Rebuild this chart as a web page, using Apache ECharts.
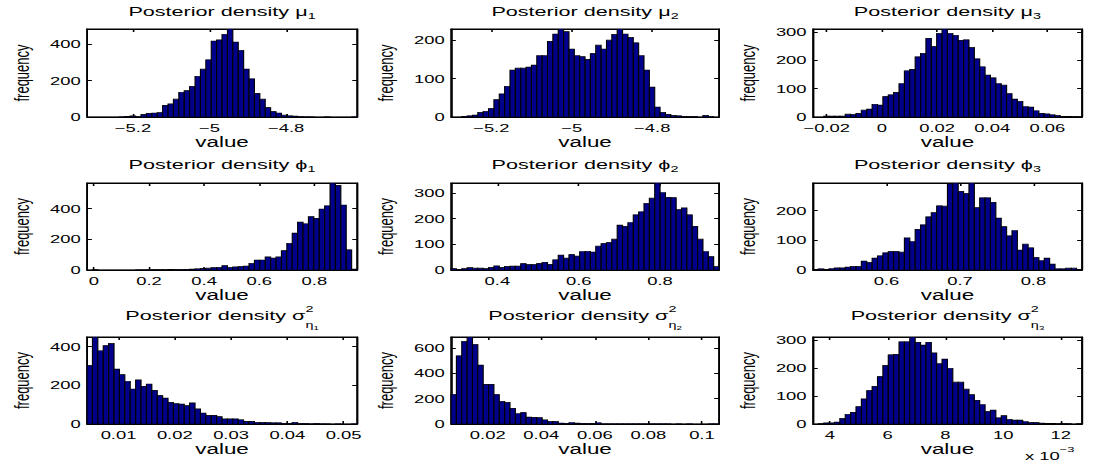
<!DOCTYPE html>
<html>
<head>
<meta charset="utf-8">
<script src="https://cdn.jsdelivr.net/npm/echarts@6/dist/echarts.min.js"></script>
<style>
html, body { margin: 0; padding: 0; background: #fff; overflow: hidden; }
/* the figure is wider than tall in the picture: draw narrow, then stretch */
#main { width: 686.25px; height: 466px; transform: scaleX(1.6); transform-origin: 0 0; }
</style>
</head>
<body>
<div id="main"></div>
<script>
// histogram counts, 50 bins each
var mu1 = [0,0,0,0,0,0,1,4,6,2, 14,20,22,24,64,72,98,136,145,168, 224,263,315,418,424,455,484,412,367,264, 210,130,98,52,30,22,10,7,5,2, 1,1,0,0,1,0,0,0,0,1];
var mu2 = [0,0,2,3,5,12,15,22,45,60, 80,122,127,127,130,135,160,160,197,216, 229,222,177,160,157,150,165,187,177,200, 215,229,216,207,193,160,122,78,26,12, 7,4,3,2,1,1,0,4,1,0];
var mu3 = [0,0,3,3,3,3,10,9,13,24, 28,45,42,72,78,87,118,163,168,212, 224,277,248,295,310,295,288,270,272,245, 205,177,148,138,118,112,82,63,55,37, 35,22,13,11,8,5,2,2,1,1];
var phi1 = [0,2,0,0,0,0,0,0,0,1, 1,1,2,2,2,4,3,3,5,6, 8,10,12,15,18,28,18,20,22,26, 44,65,65,85,78,85,126,174,240,312, 301,347,336,397,418,566,551,423,131,6];
var phi2 = [5,3,5,9,7,7,5,10,16,10, 14,15,15,25,21,21,26,30,22,40, 58,46,60,54,72,73,70,93,103,107, 120,175,170,185,215,227,260,280,339,302, 283,282,235,242,215,170,120,72,52,13];
var phi3 = [2,4,2,5,7,7,10,12,12,30, 25,40,48,58,62,62,60,108,96,137, 152,179,193,216,215,290,293,265,258,293, 210,243,243,228,175,146,115,133,67,87, 75,42,32,40,20,4,4,6,6,2];
var sig1 = [303,450,379,405,417,284,255,221,181,228, 195,207,174,147,134,112,105,103,95,109, 78,57,45,45,38,26,26,26,22,14, 14,9,8,7,6,6,4,4,9,2, 2,1,2,1,1,0,1,0,0,1];
var sig2 = [235,538,652,687,627,465,313,313,232,178, 170,124,83,90,55,53,50,32,20,20, 8,6,12,7,6,4,4,10,2,2, 1,2,1,1,2,1,1,1,2,1, 1,0,1,0,1,0,0,0,1,1];
var sig3 = [0,1,4,4,7,20,35,42,62,90, 120,135,170,210,248,250,295,295,312,293, 283,293,255,217,233,200,150,150,125,105, 85,70,45,50,22,30,17,14,14,9, 5,5,3,2,2,1,1,1,0,1];

// x range of each histogram (axis tight)
var mu1Range = [-5.32, -4.615];
var mu2Range = [-5.30, -4.634];
var mu3Range = [-0.025, 0.0725];
var phi1Range = [-0.025, 0.955];
var phi2Range = [0.286, 0.945];
var phi3Range = [0.50, 0.866];
var sig1Range = [0.0044, 0.0524];
var sig2Range = [0.0063, 0.1064];
var sig3Range = [0.00341, 0.01273];

// tick values
var mu1Ticks = [-5.2, -5, -4.8];
var mu2Ticks = [-5.2, -5, -4.8];
var mu3Ticks = [-0.02, 0, 0.02, 0.04, 0.06];
var phi1Ticks = [0, 0.2, 0.4, 0.6, 0.8];
var phi2Ticks = [0.4, 0.6, 0.8];
var phi3Ticks = [0.6, 0.7, 0.8];
var sig1Ticks = [0.01, 0.02, 0.03, 0.04, 0.05];
var sig2Ticks = [0.02, 0.04, 0.06, 0.08, 0.1];
var sig3Ticks = [0.004, 0.006, 0.008, 0.010, 0.012];
var yTicks = [
  [0, 200, 400], [0, 100, 200], [0, 100, 200, 300],
  [0, 200, 400], [0, 100, 200, 300], [0, 100, 200],
  [0, 200, 400], [0, 200, 400, 600], [0, 100, 200, 300]
];

var titleSymbols = ['μ', 'μ', 'μ', 'ϕ', 'ϕ', 'ϕ', 'σ', 'σ', 'σ'];
var titleIndex = ['1', '2', '3', '1', '2', '3', '1', '2', '3'];

var FONT = '"Liberation Sans", Arial, Helvetica, sans-serif';
var BAR = '#00008B';

// layout (unstretched coordinates)
var colLeft = [54.4, 281.9, 508.1], colWidth = [168.75, 167.5, 168.1];
var rowTop = [29, 183, 337], rowHeight = [88, 87, 87];
var titleY = [12, 165, 316];

var panels = [
  { c: mu1, r: mu1Range, xt: mu1Ticks },
  { c: mu2, r: mu2Range, xt: mu2Ticks },
  { c: mu3, r: mu3Range, xt: mu3Ticks },
  { c: phi1, r: phi1Range, xt: phi1Ticks },
  { c: phi2, r: phi2Range, xt: phi2Ticks },
  { c: phi3, r: phi3Range, xt: phi3Ticks },
  { c: sig1, r: sig1Range, xt: sig1Ticks },
  { c: sig2, r: sig2Range, xt: sig2Ticks },
  { c: sig3, r: sig3Range, xt: sig3Ticks, scale: 1000 }
];

var mctx = document.createElement('canvas').getContext('2d');
function tw(t, size) {
  mctx.font = size + 'px ' + FONT;
  return mctx.measureText(t).width;
}

// lay out a title made of pieces (sub/superscripts), centred on cx
function mathText(cx, cy, parts, leftAnchor) {
  var cursor = 0, prevStart = 0, items = [];
  parts.forEach(function (p) {
    var x = p.stack ? prevStart : cursor;
    items.push({ x: x, p: p });
    prevStart = x;
    cursor = Math.max(cursor, x + tw(p.t, p.size));
  });
  var off = leftAnchor ? cx : cx - cursor / 2;
  return items.map(function (it) {
    return {
      type: 'text', x: off + it.x, y: cy + (it.p.dy || 0), z: 10,
      style: {
        text: it.p.t, font: it.p.size + 'px ' + FONT, fill: '#000',
        align: 'left', verticalAlign: 'middle', textAlign: 'left', textVerticalAlign: 'middle'
      }
    };
  });
}

function renderBar(params, api) {
  var p0 = api.coord([api.value(0), 0]);
  var p1 = api.coord([api.value(1), api.value(2)]);
  return {
    type: 'rect',
    shape: { x: p0[0], y: p1[1], width: p1[0] - p0[0], height: p0[1] - p1[1] },
    style: { fill: BAR, stroke: '#000', lineWidth: 0.7 }
  };
}

function minus(v) {
  return String(v).replace('-', '\u2212');
}

var grids = [], xAxes = [], yAxes = [], series = [], graphics = [];
var axisText = { color: '#000', fontFamily: FONT, fontSize: 11.5 };
var nameText = { color: '#000', fontFamily: FONT, fontSize: 14 };

panels.forEach(function (p, i) {
  var row = Math.floor(i / 3), col = i % 3;
  grids.push({
    left: colLeft[col], top: rowTop[row], width: colWidth[col], height: rowHeight[row],
    show: true, borderColor: '#000', borderWidth: 1, backgroundColor: '#fff'
  });
  var ymax = Math.max.apply(null, p.c);
  var xLabel = { customValues: p.xt, margin: 5 };
  Object.assign(xLabel, axisText);
  xLabel.formatter = p.scale
    ? function (v) { return String(Math.round(v * p.scale)); }
    : function (v) { return minus(+v.toFixed(6)); };

  xAxes.push({
    gridIndex: i, type: 'value', position: 'bottom', min: p.r[0], max: p.r[1],
    axisLine: { show: true, onZero: false, lineStyle: { color: '#000', width: 1 } },
    axisTick: { inside: true, length: 3, customValues: p.xt, lineStyle: { color: '#000' } },
    axisLabel: xLabel, splitLine: { show: false },
    name: 'value', nameLocation: 'middle', nameGap: 17, nameTextStyle: nameText
  });
  xAxes.push({
    gridIndex: i, type: 'value', position: 'top', min: p.r[0], max: p.r[1],
    axisLine: { show: true, onZero: false, lineStyle: { color: '#000', width: 1 } },
    axisTick: { inside: true, length: 3, customValues: p.xt, lineStyle: { color: '#000' } },
    axisLabel: { show: false }, splitLine: { show: false }
  });
  var yLabel = { customValues: yTicks[i], margin: 4 };
  Object.assign(yLabel, axisText);
  yAxes.push({
    gridIndex: i, type: 'value', position: 'left', min: 0, max: ymax,
    axisLine: { show: true, onZero: false, lineStyle: { color: '#000', width: 1 } },
    axisTick: { inside: true, length: 3, customValues: yTicks[i], lineStyle: { color: '#000' } },
    axisLabel: yLabel, splitLine: { show: false },
    name: 'frequency', nameLocation: 'middle', nameGap: 34, nameRotate: 90,
    nameTextStyle: { color: '#000', fontFamily: FONT, fontSize: 13 }
  });
  yAxes.push({
    gridIndex: i, type: 'value', position: 'right', min: 0, max: ymax,
    axisLine: { show: true, onZero: false, lineStyle: { color: '#000', width: 1 } },
    axisTick: { inside: true, length: 3, customValues: yTicks[i], lineStyle: { color: '#000' } },
    axisLabel: { show: false }, splitLine: { show: false }
  });

  var w = (p.r[1] - p.r[0]) / p.c.length;
  series.push({
    type: 'custom', xAxisIndex: 2 * i, yAxisIndex: 2 * i,
    renderItem: renderBar, encode: { x: [0, 1], y: 2 }, clip: true, silent: true,
    data: p.c.map(function (v, k) { return [p.r[0] + k * w, p.r[0] + (k + 1) * w, v]; })
  });

  // titles
  var cx = colLeft[col] + colWidth[col] / 2;
  var parts;
  if (row < 2) {
    parts = [
      { t: 'Posterior density ' + titleSymbols[i], size: 13.5 },
      { t: titleIndex[i], size: 9, dy: 4 }
    ];
  } else {
    parts = [
      { t: 'Posterior density ' + titleSymbols[i], size: 13.5 },
      { t: '2', size: 9, dy: -7 },
      { t: 'η', size: 9, dy: 9, stack: true },
      { t: titleIndex[i], size: 6, dy: 12 }
    ];
  }
  graphics = graphics.concat(mathText(cx, titleY[row], parts));
});

// exponent note under the last panel
graphics = graphics.concat(mathText(640.6, 456, [
  { t: 'x 10', size: 11.5 },
  { t: '\u22123', size: 8, dy: -7 }
], true));

var chart = echarts.init(document.getElementById('main'), null, { renderer: 'svg' });
chart.setOption({
  animation: false,
  backgroundColor: '#fff',
  grid: grids,
  xAxis: xAxes,
  yAxis: yAxes,
  series: series,
  graphic: { elements: graphics }
});
</script>
</body>
</html>
